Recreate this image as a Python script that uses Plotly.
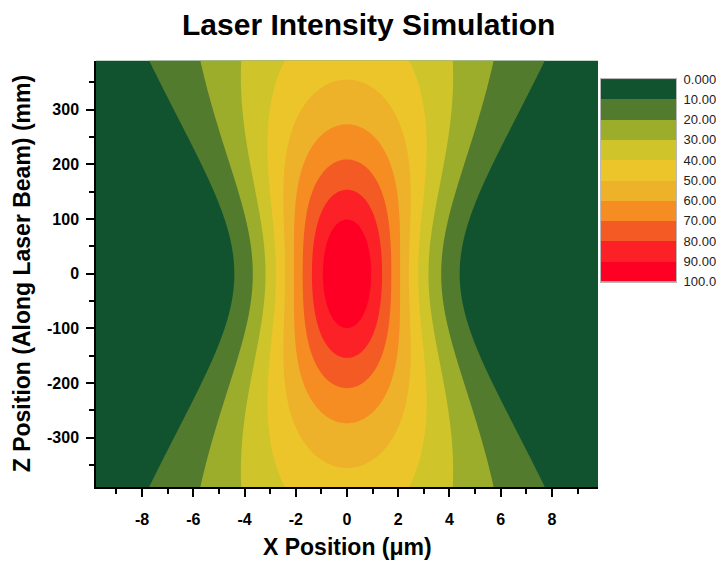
import numpy as np
import plotly.graph_objects as go

# Gaussian beam model parameters
peak_intensity = 100.0     # intensity at the focus
waist_um = 4.1             # beam waist w0 (μm)
rayleigh_mm = 205.0        # Rayleigh range zR (mm)

x_span = [-9.8, 9.8]       # transverse extent (μm)
z_span = [-390.0, 390.0]   # extent along the beam (mm)

contour_levels = [0, 10, 20, 30, 40, 50, 60, 70, 80, 90, 100]
level_labels = ["0.000", "10.00", "20.00", "30.00", "40.00", "50.00",
                "60.00", "70.00", "80.00", "90.00", "100.0"]
band_colors = ["#11532E", "#527B2D", "#9CAD2B", "#CFC52A", "#ECC52A",
               "#EDB12A", "#F68D22", "#F45A23", "#FB2126", "#FF0025"]

x_tick_vals = [-8, -6, -4, -2, 0, 2, 4, 6, 8]
x_tick_text = ["-8", "-6", "-4", "-2", "0", "2", "4", "6", "8"]
z_tick_vals = [-300, -200, -100, 0, 100, 200, 300]
z_tick_text = ["-300", "-200", "-100", "0", "100", "200", "300"]

# Intensity field of the focused beam
x = np.linspace(x_span[0], x_span[1], 393)
z = np.linspace(z_span[0], z_span[1], 313)
X, Z = np.meshgrid(x, z)
w = waist_um * np.sqrt(1.0 + (Z / rayleigh_mm) ** 2)
intensity = peak_intensity * (waist_um / w) * np.exp(-2.0 * X ** 2 / w ** 2)

n_bands = len(band_colors)
step = contour_levels[1] - contour_levels[0]

# Stepped colorscale for the filled contour bands (sampled at band midpoints)
contour_scale = []
for i, c in enumerate(band_colors):
    lo = max(0.0, (i - 0.5) / (n_bands - 1))
    hi = min(1.0, (i + 0.5) / (n_bands - 1))
    contour_scale += [[lo, c], [hi, c]]

# Stepped colorscale for the legend blocks
lmin, lmax = contour_levels[0], contour_levels[-1]
legend_scale = []
for a, b, c in zip(contour_levels[:-1], contour_levels[1:], band_colors):
    legend_scale += [[(a - lmin) / (lmax - lmin), c], [(b - lmin) / (lmax - lmin), c]]
band_mid = [(a + b) / 2 for a, b in zip(contour_levels[:-1], contour_levels[1:])]

W, H = 716, 571
bold = dict(family="Liberation Sans, Arial, sans-serif", color="black", weight="bold")

fig = go.Figure()
fig.add_trace(go.Contour(
    x=x, y=z, z=intensity,
    autocontour=False,
    contours=dict(start=contour_levels[1], end=contour_levels[-2], size=step,
                  coloring="fill", showlines=False),
    line=dict(width=0),
    colorscale=contour_scale,
    showscale=False,
    hoverinfo="skip",
))

fig.add_trace(go.Heatmap(
    x=[0], y=list(range(n_bands)), z=[[m] for m in band_mid],
    colorscale=legend_scale, zmin=lmin, zmax=lmax,
    showscale=False, hoverinfo="skip",
    xaxis="x2", yaxis="y2",
))

axis_common = dict(
    ticks="outside", ticklen=8, tickwidth=1.5, tickcolor="black",
    showline=True, linecolor="black", linewidth=1.5, mirror=False,
    showgrid=False, zeroline=False,
    tickfont=dict(size=16, **bold),
    automargin=False,
)

fig.update_layout(
    width=W, height=H, autosize=False,
    margin=dict(l=0, r=0, t=0, b=0),
    paper_bgcolor="white", plot_bgcolor="white",
    showlegend=False,
    xaxis=dict(domain=[96 / W, 598 / W], range=x_span,
               tickmode="array", tickvals=x_tick_vals, ticktext=x_tick_text,
               minor=dict(ticks="outside", ticklen=5, tickwidth=1.5, tickcolor="black",
                          tickmode="linear", tick0=-9, dtick=1),
               ticklabelstandoff=9,
               **axis_common),
    yaxis=dict(domain=[1 - 493 / H, 1 - 55 / H], range=z_span,
               tickmode="array", tickvals=z_tick_vals, ticktext=z_tick_text,
               minor=dict(ticks="outside", ticklen=5, tickwidth=1.5, tickcolor="black",
                          tickmode="linear", tick0=-350, dtick=50),
               ticklabelstandoff=4,
               **axis_common),
    xaxis2=dict(domain=[601 / W, 676 / W], range=[-0.5, 0.5], anchor="y2",
                showticklabels=False, ticks="", showgrid=False, zeroline=False,
                showline=True, linecolor="#b8b8b8", linewidth=1, mirror=True),
    yaxis2=dict(domain=[1 - 282 / H, 1 - 74 / H], range=[n_bands - 0.5, -0.5],
                anchor="x2", side="right",
                tickmode="array", tickvals=[i - 0.5 for i in range(n_bands + 1)],
                ticktext=level_labels, ticks="", showgrid=False, zeroline=False,
                showline=True, linecolor="#b8b8b8", linewidth=1, mirror=True,
                tickfont=dict(family="Liberation Sans, Arial, sans-serif", size=13,
                              color="#222222"),
                ticklabelstandoff=4),
    annotations=[
        dict(text="Laser Intensity Simulation", x=368 / W, y=1 - 18 / H,
             xref="paper", yref="paper", xanchor="center", yanchor="middle",
             showarrow=False, font=dict(size=30, **bold)),
        dict(text="X Position (μm)", x=347 / W, y=1 - 555 / H,
             xref="paper", yref="paper", xanchor="center", yanchor="middle",
             showarrow=False, font=dict(size=23, **bold)),
        dict(text="Z Position (Along Laser Beam) (mm)", x=22 / W, y=1 - 274.5 / H,
             xref="paper", yref="paper", xanchor="center", yanchor="middle",
             textangle=-90, showarrow=False, font=dict(size=23, **bold)),
    ],
)

fig.write_html("out.html")
